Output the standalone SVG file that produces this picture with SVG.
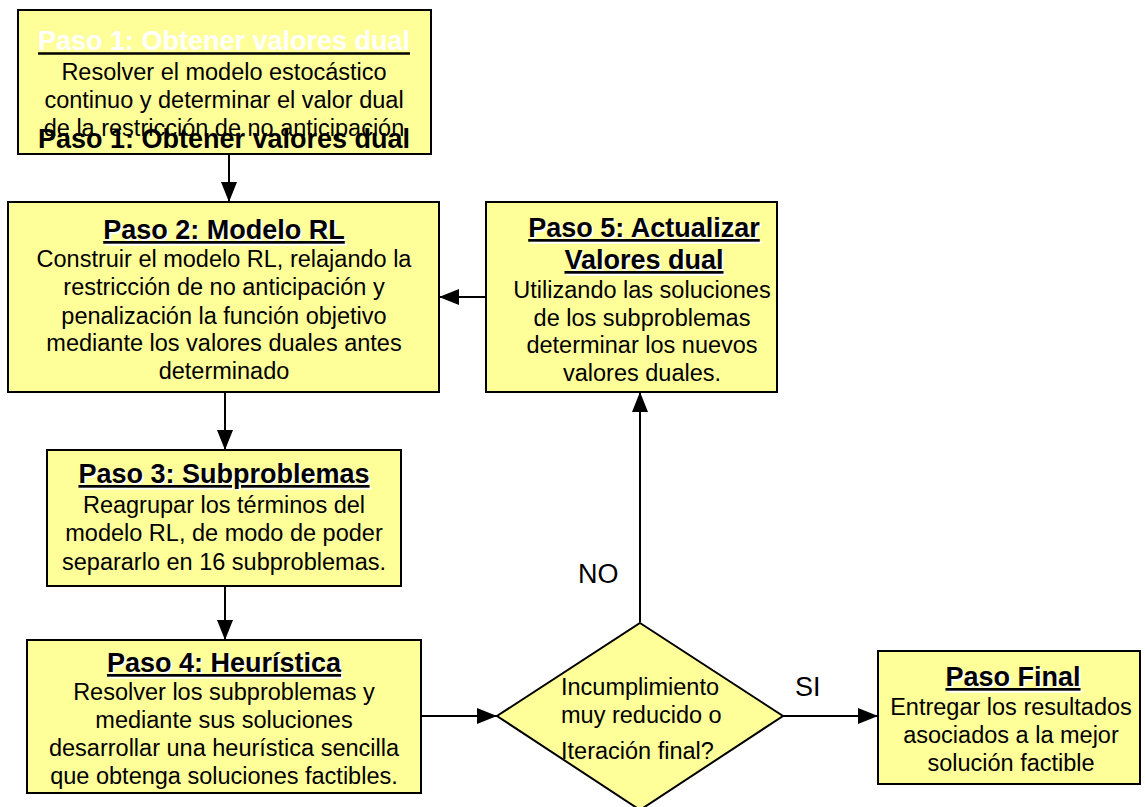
<svg xmlns="http://www.w3.org/2000/svg" width="1145" height="807" viewBox="0 0 1145 807">
<defs>
<marker id="arr" viewBox="0 0 20 16" refX="20" refY="8" markerWidth="20" markerHeight="16" markerUnits="userSpaceOnUse" orient="auto">
<path d="M0,0 L20,8 L0,16 z" fill="#000"/>
</marker>
</defs>
<style>
.box{fill:#FFFF99;stroke:#000;stroke-width:2}
text{font-family:"Liberation Sans",Arial,sans-serif;fill:#000}
.t{font-size:27px;font-weight:bold;text-anchor:middle;text-decoration:underline}
.sh{fill:#fff}
.b{font-size:23.5px;text-anchor:middle}
.lbl{font-size:27px}
.c{fill:none;stroke:#000;stroke-width:2}
</style>
<rect width="1145" height="807" fill="#fff"/>
<g id="connectors">
<line class="c" x1="229" y1="154" x2="229" y2="202" marker-end="url(#arr)"/>
<line class="c" x1="487" y1="297" x2="439" y2="297" marker-end="url(#arr)"/>
<line class="c" x1="225" y1="392" x2="225" y2="450" marker-end="url(#arr)"/>
<line class="c" x1="225" y1="586" x2="225" y2="640" marker-end="url(#arr)"/>
<line class="c" x1="421" y1="716" x2="497" y2="716" marker-end="url(#arr)"/>
<line class="c" x1="640" y1="622" x2="640" y2="392" marker-end="url(#arr)"/>
<line class="c" x1="783" y1="716" x2="878" y2="716" marker-end="url(#arr)"/>
<text class="lbl" x="578" y="583">NO</text>
<text class="lbl" x="795" y="696">SI</text>
</g>
<g id="paso1">
<rect class="box" x="18" y="10" width="413" height="144"/>
<text class="t sh" x="224" y="50" style="text-decoration:none">Paso 1: Obtener valores dual</text>
<line x1="38" y1="53.5" x2="410" y2="53.5" stroke="#000" stroke-width="2.5"/>
<text class="b" x="224" y="80">Resolver el modelo estocástico</text>
<text class="b" x="224" y="108">continuo y determinar el valor dual</text>
<text class="b" x="224" y="136">de la restricción de no anticipación</text>
<text class="t" x="224" y="148" style="text-decoration:none">Paso 1: Obtener valores dual</text>
</g>
<g id="paso2">
<rect class="box" x="8" y="202" width="431" height="190"/>
<text class="t sh" x="226" y="241">Paso 2: Modelo RL</text>
<text class="t" x="224" y="239">Paso 2: Modelo RL</text>
<text class="b" x="224" y="267">Construir el modelo RL, relajando la</text>
<text class="b" x="224" y="295">restricción de no anticipación y</text>
<text class="b" x="224" y="324">penalización la función objetivo</text>
<text class="b" x="224" y="351">mediante los valores duales antes</text>
<text class="b" x="224" y="379">determinado</text>
</g>
<g id="paso5">
<rect class="box" x="486" y="202" width="291" height="190"/>
<text class="t sh" x="646" y="239">Paso 5: Actualizar</text>
<text class="t" x="644" y="237">Paso 5: Actualizar</text>
<text class="t sh" x="646" y="271">Valores dual</text>
<text class="t" x="644" y="269">Valores dual</text>
<text class="b" x="642" y="298">Utilizando las soluciones</text>
<text class="b" x="642" y="326">de los subproblemas</text>
<text class="b" x="642" y="353">determinar los nuevos</text>
<text class="b" x="642" y="381">valores duales.</text>
</g>
<g id="paso3">
<rect class="box" x="47" y="450" width="354" height="136"/>
<text class="t sh" x="226" y="485">Paso 3: Subproblemas</text>
<text class="t" x="224" y="483">Paso 3: Subproblemas</text>
<text class="b" x="224" y="513">Reagrupar los términos del</text>
<text class="b" x="224" y="541">modelo RL, de modo de poder</text>
<text class="b" x="224" y="570">separarlo en 16 subproblemas.</text>
</g>
<g id="paso4">
<rect class="box" x="27" y="640" width="394" height="153"/>
<text class="t sh" x="226" y="674">Paso 4: Heurística</text>
<text class="t" x="224" y="672">Paso 4: Heurística</text>
<text class="b" x="224" y="700">Resolver los subproblemas  y</text>
<text class="b" x="224" y="728">mediante sus soluciones</text>
<text class="b" x="224" y="756">desarrollar una heurística sencilla</text>
<text class="b" x="224" y="784">que obtenga soluciones factibles.</text>
</g>
<g id="decision">
<polygon points="640,623 783,716 640,810 497,716" fill="#FFFF99" stroke="#000" stroke-width="2"/>
<text style="font-size:23.5px" x="561" y="695">Incumplimiento</text>
<text style="font-size:23.5px" x="561" y="723">muy reducido o</text>
<text style="font-size:23.5px" x="561" y="759">Iteración final?</text>
</g>
<g id="pasofinal">
<rect class="box" x="878" y="651" width="262" height="133"/>
<text class="t sh" x="1015" y="688">Paso Final</text>
<text class="t" x="1013" y="686">Paso Final</text>
<text class="b" x="1011" y="715">Entregar los resultados</text>
<text class="b" x="1011" y="743">asociados a la mejor</text>
<text class="b" x="1011" y="771">solución factible</text>
</g>
</svg>
